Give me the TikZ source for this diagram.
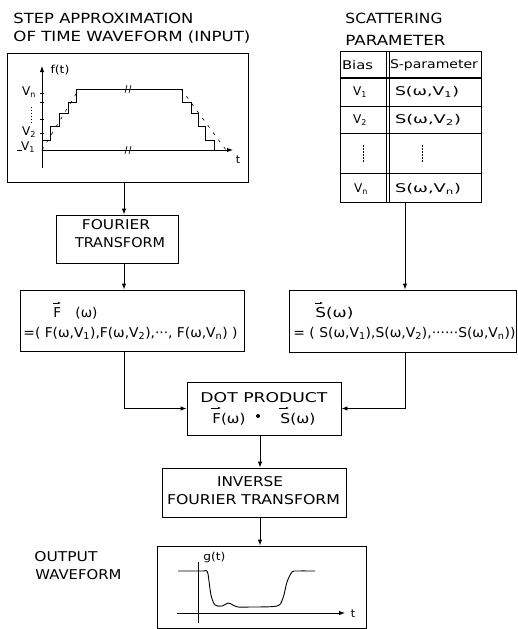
\documentclass[tikz,border=0pt]{standalone}
\usepackage{fontspec}
\usepackage{graphicx}
\setmainfont{DejaVu Sans}
\usetikzlibrary{arrows.meta}
\newcommand{\tx}[2]{\resizebox{#1}{\height}{#2}}
\begin{document}
\begin{tikzpicture}[x=1pt,y=-1pt,line width=0.9pt,
 box/.style={draw,inner sep=0pt},
 lbl/.style={inner sep=0pt,font=\fontsize{13.5}{15}\selectfont},
 hd/.style={inner sep=0pt,anchor=west,font=\fontsize{14}{16}\selectfont},
 cell/.style={inner sep=0pt,font=\fontsize{12}{14}\selectfont},
 sm/.style={inner sep=0pt,font=\fontsize{11}{13}\selectfont},
 arr/.style={-{Latex[length=6pt,width=4.5pt]}},
 vecar/.style={line width=0.6pt,-{Latex[length=3pt,width=2.5pt]}},
 brk/.style={line width=0.7pt}]
\useasboundingbox (0,0) rectangle (517,629);

% ---- boxes
\node[box,minimum width=241pt,minimum height=129pt] (inbox) at (127.5,117.5) {};
\node[box,minimum width=122pt,minimum height=48pt] (four) at (117,239) {};
\node[box,minimum width=224pt,minimum height=61pt] (fbox) at (132,320.5) {};
\node[box,minimum width=227pt,minimum height=62pt] (sbox) at (402.5,321) {};
\node[box,minimum width=154pt,minimum height=53pt] (dot) at (264,408.5) {};
\node[box,minimum width=184pt,minimum height=49pt] (inv) at (254,492.5) {};
\node[box,minimum width=209pt,minimum height=82pt] (out) at (261.5,587) {};
\node[box,minimum width=141pt,minimum height=151pt] (tbl) at (410.5,126.5) {};

\coordinate (cL) at (124,0);
\coordinate (cR) at (405,0);
\coordinate (cM) at (260,0);

% ---- connectors
\draw[arr] (inbox.south -| cL) -- (four.north -| cL);
\draw[arr] (four.south -| cL) -- (fbox.north -| cL);
\draw[arr] (tbl.south -| cR) -- (sbox.north -| cR);
\draw[arr] (fbox.south -| cL) |- (dot.west);
\draw[arr] (sbox.south -| cR) |- (dot.east);
\draw[arr] (dot.south -| cM) -- (inv.north -| cM);
\draw[arr] (inv.south -| cM) -- (out.north -| cM);

% ---- titles
\node[hd] (t1) at (13,18) {\tx{180pt}{STEP APPROXIMATION}};
\node[hd] (t2) at (13,37) {\tx{237pt}{OF TIME WAVEFORM (INPUT)}};
\node[hd] (t3) at (345,18) {\tx{97pt}{SCATTERING}};
\node[hd] (t4) at (345,40) {\tx{100pt}{PARAMETER}};

% ---- input waveform
\draw[arr] (42,168) -- (42,66);
\draw[arr] (42,150) -- (233,150);
\draw (17,150) -- (22,150);
\foreach \yy in {93,102,119,133} \draw[line width=0.7pt] (40,\yy) -- (44,\yy);
\draw[dash pattern=on 1pt off 2pt,line width=0.7pt] (31,107) -- (31,123);
\node[cell] (lvn) at (29,92) {V\textsubscript{n}};
\node[cell] (lv2) at (29,132) {V\textsubscript{2}};
\node[cell] (lv1) at (28,147) {V\textsubscript{1}};
\node[sm] (lft) at (60,70) {\tx{19pt}{f(t)}};
\node[sm] (ltt) at (238,160) {t};
\draw (42,140) -- (50.7,140) -- (50.7,126) -- (59.3,126) -- (59.3,113) -- (68.3,113)
 -- (68.3,102) -- (76.7,102) -- (76.7,89) -- (182,89) -- (182,102) -- (191,102)
 -- (191,113) -- (198,113) -- (198,126) -- (205,126) -- (205,140) -- (214,140) -- (214,150);
\draw[dash pattern=on 3pt off 6pt,line width=0.6pt] (42,150) -- (79,89);
\draw[dash pattern=on 3pt off 6pt,line width=0.6pt] (181,89) -- (226,150);
\draw[brk] (125,93) -- (127,85);
\draw[brk] (129,93) -- (131,85);
\draw[brk] (125,154) -- (127,146);
\draw[brk] (129,154) -- (131,146);

% ---- table
\draw[line width=1.3pt] (340,78) -- (481,78);
\draw (340,106) -- (481,106);
\draw (340,133) -- (481,133);
\draw (340,173) -- (481,173);
\draw (386,51) -- (386,202);
\draw (389,51) -- (389,202);
\draw[dash pattern=on 1.5pt off 1.5pt,line width=0.7pt] (363,145) -- (363,163);
\draw[dash pattern=on 1.5pt off 1.5pt,line width=0.7pt] (422,145) -- (422,163);
\node[cell] (tb) at (357.5,65) {\tx{31pt}{Bias}};
\node[cell] (tsp) at (434,65) {\tx{88pt}{S-parameter}};
\node[cell] (tv1) at (360,92) {V\textsubscript{1}};
\node[cell] (ts1) at (427,92) {\tx{64pt}{S(ω,V\textsubscript{1})}};
\node[cell] (tv2) at (360,120) {V\textsubscript{2}};
\node[cell] (ts2) at (428,120) {\tx{66pt}{S(ω,V\textsubscript{2})}};
\node[cell] (tvn) at (361,189) {V\textsubscript{n}};
\node[cell] (tsn) at (428,189) {\tx{66pt}{S(ω,V\textsubscript{n})}};

% ---- Fourier transform
\node[lbl] (fo1) at (116,225) {\tx{68pt}{FOURIER}};
\node[lbl] (fo2) at (120,243) {\tx{90pt}{TRANSFORM}};

% ---- F vector
\draw[vecar] (53,303) -- (61,303);
\node[lbl,anchor=west] (fF) at (53,313) {F};
\node[lbl,anchor=west] (fw) at (75,313) {\tx{22pt}{(ω)}};
\node[lbl,anchor=west] (fl2) at (23,333) {\tx{214pt}{=( F(ω,V\textsubscript{1}),F(ω,V\textsubscript{2}),···, F(ω,V\textsubscript{n}) )}};

% ---- S vector
\draw[vecar] (315,303) -- (323,303);
\node[lbl,anchor=west] (sS) at (315,313) {\tx{38pt}{S(ω)}};
\node[lbl,anchor=west] (sl2) at (293,333) {\tx{222pt}{= ( S(ω,V\textsubscript{1}),S(ω,V\textsubscript{2}),······S(ω,V\textsubscript{n}))}};

% ---- dot product
\node[lbl] (d1) at (264,398) {\tx{127pt}{DOT PRODUCT}};
\node[lbl,anchor=west] (d2a) at (212,419) {\tx{33pt}{F(ω)}};
\node[lbl] (d2b) at (258,418) {•};
\node[lbl,anchor=west] (d2c) at (280,419) {\tx{35pt}{S(ω)}};
\draw[vecar] (211,408) -- (221,408);
\draw[vecar] (279,408) -- (289,408);

% ---- inverse
\node[lbl] (i1) at (250,482) {\tx{66pt}{INVERSE}};
\node[lbl] (i2) at (253.5,500) {\tx{173pt}{FOURIER TRANSFORM}};

% ---- output
\node[lbl,anchor=west] (o1) at (34,557) {\tx{63pt}{OUTPUT}};
\node[lbl,anchor=west] (o2) at (35,575) {\tx{86pt}{WAVEFORM}};
\draw (198,562) -- (198,623);
\draw[arr] (177,613) -- (345,613);
\node[sm,anchor=west] (gt) at (203,557) {\tx{22pt}{g(t)}};
\node[sm] (ot) at (353,614) {t};
\draw plot[smooth,tension=0.5] coordinates {(178,571) (203,571) (206,570.5) (208,574)
 (211,595) (215,605) (222,606) (228,603) (233,605) (238,607) (250,607) (277,606)
 (283,598) (287,582) (292,572) (297,571) (315,571)};
\end{tikzpicture}
\end{document}
